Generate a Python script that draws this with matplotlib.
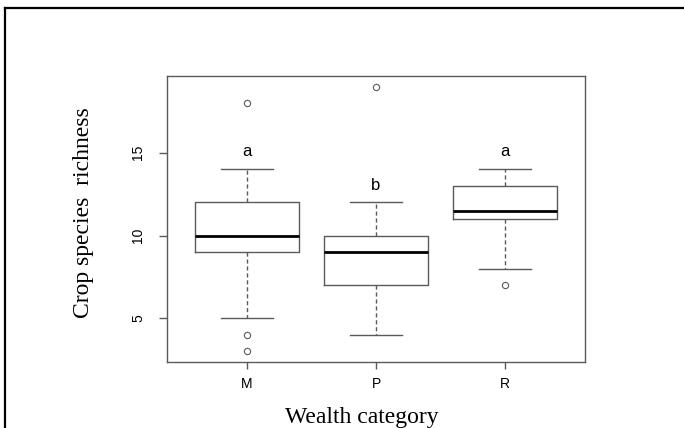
import numpy as np
import matplotlib.pyplot as plt
from matplotlib.lines import Line2D

# box summaries per wealth group
groups = ["M", "P", "R"]
whislo = [5, 4, 8]
q1 = [9, 7, 11]
med = [10, 9, 11.5]
q3 = [12, 10, 13]
whishi = [14, 12, 14]
fliers = [[18, 4, 3], [19], [7]]
letters = ["a", "b", "a"]
letter_y = [15.1, 13.0, 15.1]

grey = "#5a5a5a"
sans = "Liberation Sans"
serif = "Liberation Serif"

fig = plt.figure(figsize=(6.84, 4.28), dpi=100)
ax = fig.add_axes([167/684, 1-362/428, 418/684, 286/428])

stats = []
for i in range(len(groups)):
    stats.append(dict(label=groups[i], whislo=whislo[i], q1=q1[i], med=med[i],
                      q3=q3[i], whishi=whishi[i], fliers=fliers[i]))

ax.bxp(stats, positions=[1, 2, 3], widths=0.8, capwidths=0.4,
       boxprops=dict(color=grey, lw=1.0),
       whiskerprops=dict(color=grey, lw=1.0, linestyle=(0, (3, 2))),
       capprops=dict(color=grey, lw=1.0),
       medianprops=dict(color="black", lw=2.0),
       flierprops=dict(marker="o", markersize=4.5, markerfacecolor="none",
                       markeredgecolor=grey, markeredgewidth=0.8))

for i in range(len(groups)):
    ax.text(i + 1, letter_y[i], letters[i], ha="center", va="center",
            fontsize=12, family=sans)

ax.set_xlim(0.38, 3.62)
ax.set_ylim(2.36, 19.64)
ax.set_yticks([5, 10, 15])
ax.set_xticks([1, 2, 3])
ax.set_xticklabels(groups, family=sans, fontsize=10)
ax.set_yticklabels(["5", "10", "15"], family=sans, fontsize=10,
                   rotation=90, va="center")
ax.tick_params(axis="x", length=5, width=1, color=grey, pad=6)
ax.tick_params(axis="y", length=5.5, width=1, color=grey, pad=10)
for s in ax.spines.values():
    s.set_color(grey)
    s.set_linewidth(1.0)

fig.text(83/684, 1-213/428, "Crop species  richness", rotation=90,
         ha="center", va="center", family=serif, fontsize=17)
fig.text(362/684, 1-417/428, "Wealth category", ha="center", va="center",
         family=serif, fontsize=17)

# outer frame (top and left edges only)
fig.add_artist(Line2D([5/684, 1], [1-8/428, 1-8/428], color="black", lw=1.6,
                      transform=fig.transFigure))
fig.add_artist(Line2D([5/684, 5/684], [0, 1-8/428], color="black", lw=1.6,
                      transform=fig.transFigure))

fig.savefig("out.png", dpi=100)
